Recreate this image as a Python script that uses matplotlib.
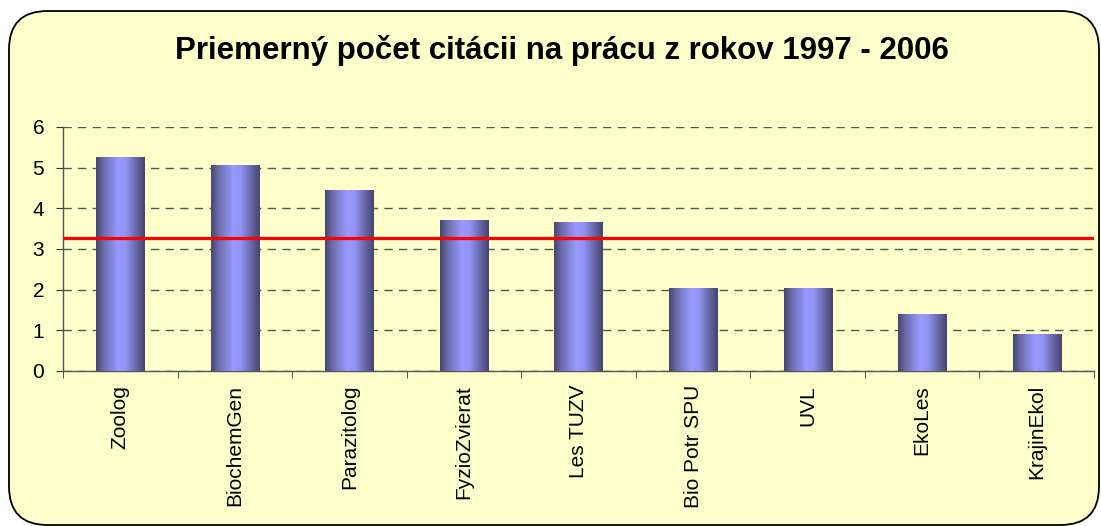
import matplotlib
matplotlib.use("Agg")
import matplotlib.pyplot as plt
from matplotlib.patches import FancyBboxPatch
from matplotlib.colors import LinearSegmentedColormap
import numpy as np

plt.rcParams['font.family'] = ['Liberation Sans', 'DejaVu Sans']

# data
categories = ['Zoolog', 'BiochemGen', 'Parazitolog', 'FyzioZvierat', 'Les TUZV',
              'Bio Potr SPU', 'UVL', 'EkoLes', 'KrajinEkol']
values = [5.25, 5.06, 4.43, 3.69, 3.64, 2.02, 2.02, 1.38, 0.89]
average = 3.28
title = 'Priemerný počet citácii na prácu z rokov 1997 - 2006'

fig = plt.figure(figsize=(11.01, 5.26), dpi=100)

# rounded chart frame, kept behind the axes
frame = FancyBboxPatch((9/1101, 1/526), 1090/1101, 514/526,
                       boxstyle="round,pad=0,rounding_size=0.035",
                       transform=fig.transFigure, facecolor='#FFFFCC',
                       edgecolor='black', linewidth=1.3, mutation_aspect=1101/526,
                       zorder=-10)
fig.patches.append(frame)

ax = fig.add_axes([63/1101, 1 - 371/526, 1031/1101, 244/526])
ax.set_facecolor('none')

x = np.arange(len(categories))
bars = ax.bar(x, values, width=0.42, color='#9999FF', zorder=2)

# horizontal shading on the bars
grad_cmap = LinearSegmentedColormap.from_list(
    'cyl', [(0.0, '#45456F'), (0.15, '#6B6BAA'), (0.45, '#9999FF'),
            (0.6, '#9494F5'), (0.85, '#6262A0'), (1.0, '#45456F')])
grad = np.linspace(0, 1, 256).reshape(1, -1)
for b in bars:
    ax.imshow(grad, cmap=grad_cmap, aspect='auto', zorder=3,
              extent=(b.get_x(), b.get_x() + b.get_width(), 0, b.get_height()))

ax.axhline(average, color='#FF0000', linewidth=2.3, zorder=4)

ax.set_xlim(-0.5, len(categories) - 0.5)
ax.set_ylim(0, 6)
ax.set_yticks(range(0, 7))
ax.yaxis.grid(True, linestyle=(0, (6, 4.5)), color='#555555', linewidth=1.0, zorder=1)
ax.set_axisbelow(True)

ax.set_xticks(x)
ax.set_xticklabels(categories, rotation=90, fontsize=15)
ax.tick_params(axis='x', length=0, pad=10)
ax.set_xticks(np.arange(-0.5, len(categories)), minor=True)
ax.tick_params(axis='x', which='minor', length=5, direction='out', color='#333333')
ax.tick_params(axis='y', length=5, direction='out', labelsize=15, pad=8.5, color='#333333')

for s in ['top', 'right']:
    ax.spines[s].set_visible(False)
for s in ['left', 'bottom']:
    ax.spines[s].set_color('#555555')
    ax.spines[s].set_linewidth(1.0)

fig.text(562/1101, 1 - 51/526, title, ha='center', va='center',
         fontsize=22.5, fontweight='bold')

fig.savefig('out.png', dpi=100, facecolor='white')
